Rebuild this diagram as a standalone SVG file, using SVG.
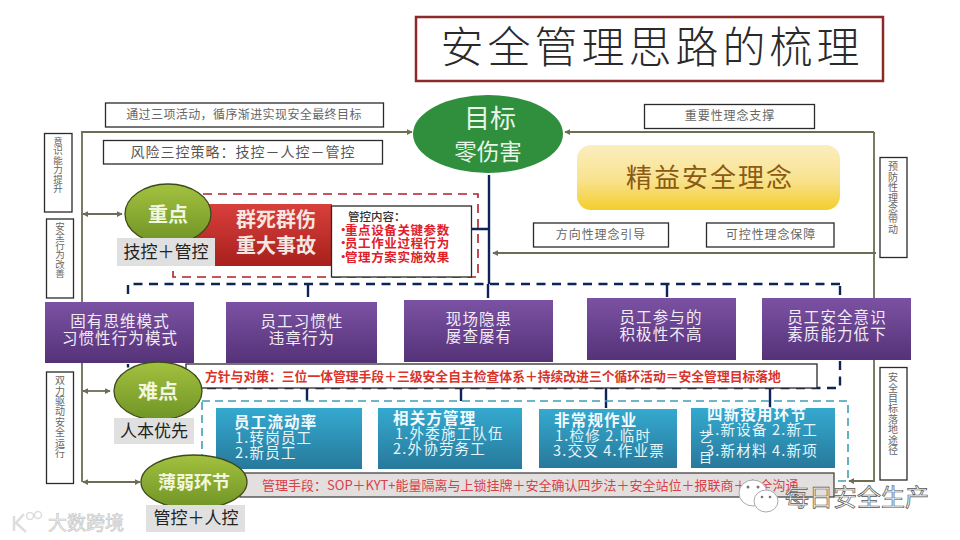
<svg xmlns="http://www.w3.org/2000/svg" width="960" height="540" viewBox="0 0 960 540">
<style>
text{font-family:"Noto Sans CJK SC","Noto Sans",sans-serif}
.lb{fill:#fff;stroke:#2a2a2a;stroke-width:1.3}
.lt{font-size:12px;fill:#666;text-anchor:middle;letter-spacing:.9px}
.vt{font-size:10px;fill:#666;writing-mode:vertical-rl;text-anchor:middle;letter-spacing:.4px}
.vs{font-size:9.5px;letter-spacing:0}
.pu{fill:url(#pur)}
.pt{font-size:15.5px;fill:#f1ecf6;text-anchor:middle;letter-spacing:1.1px}
.te{fill:url(#tea)}
.th{font-size:15.500px;font-weight:700;fill:#f4fbff;letter-spacing:1.200px}
.tt{font-size:14.500px;fill:#e6f6fb;letter-spacing:1.200px}
.ol{stroke:#6d6d55;stroke-width:1.8;fill:none}
.nv{stroke:#0f2456;stroke-width:2.4;fill:none}
.da{stroke-dasharray:9 6.5}
.gr{fill:#e0e0e0}
.gt{font-size:17px;fill:#222;text-anchor:middle}
.el{fill:url(#grn);stroke:#3d4a1a;stroke-width:1.3}
.et{font-weight:700;fill:#f2f6dc;text-anchor:middle}
.rd{font-size:12.5px;font-weight:700;fill:#e0202a;letter-spacing:.6px}
</style>
<defs>
<linearGradient id="pur" x1="0" y1="0" x2="0" y2="1"><stop offset="0" stop-color="#7b52a3"/><stop offset="1" stop-color="#553278"/></linearGradient>
<linearGradient id="tea" x1="0" y1="0" x2="0" y2="1"><stop offset="0" stop-color="#35a9cf"/><stop offset="1" stop-color="#27799b"/></linearGradient>
<linearGradient id="grn" x1="0" y1="0" x2="0" y2="1"><stop offset="0" stop-color="#a3c13f"/><stop offset="1" stop-color="#6f9426"/></linearGradient>
<linearGradient id="yel" x1="0" y1="0" x2="0" y2="1"><stop offset="0" stop-color="#fbeec0"/><stop offset="0.55" stop-color="#f8e28c"/><stop offset="1" stop-color="#f3cd2c"/></linearGradient>
<linearGradient id="red" x1="0" y1="0" x2="0" y2="1"><stop offset="0" stop-color="#d8403c"/><stop offset="1" stop-color="#a8201c"/></linearGradient>
<marker id="ar" viewBox="0 0 8 8" refX="7" refY="4" markerWidth="6" markerHeight="6" orient="auto-start-reverse" markerUnits="userSpaceOnUse"><path d="M0 0L8 4L0 8Z" fill="#6d6d55"/></marker>
</defs>
<rect width="960" height="540" fill="#fff"/>

<g id="connectors">
<path class="ol" d="M82 482V132H412" marker-end="url(#ar)"/>
<path class="ol" d="M83 214H122" marker-start="url(#ar)" marker-end="url(#ar)"/>
<path class="ol" d="M83 391H110" marker-start="url(#ar)" marker-end="url(#ar)"/>
<path class="ol" d="M83 482H140" marker-start="url(#ar)" marker-end="url(#ar)"/>
<path class="ol" d="M874 132H565" marker-end="url(#ar)"/>
<path class="ol" d="M874 132V481H849" marker-end="url(#ar)"/>
<path class="ol" d="M876 253H493" marker-end="url(#ar)"/>
<path class="nv" d="M489 175V284M472 229H489"/>
<path class="nv da" d="M128 294V284H840"/>
<path class="nv" d="M308 284V297M488 284V298M667 284V297M840 286V295"/>
<path class="nv da" d="M840 361V388H128V364"/>
<path class="nv" d="M307 388V401M461 388V401M606 388V408M770 388V408"/>
<rect x="202" y="401" width="646" height="80" fill="none" stroke="#3f9fb5" stroke-width="1.6" stroke-dasharray="8 5"/>
<rect x="173" y="194" width="305" height="83" fill="none" stroke="#b02028" stroke-width="1.6" stroke-dasharray="9 6"/>
</g>

<g id="title"><rect x="416" y="17" width="467" height="64" fill="#fff" stroke="#8c2a2a" stroke-width="2.5"/>
<text x="652" y="63" font-size="43" fill="#2a2a2a" text-anchor="middle" letter-spacing="4" font-weight="300">安全管理思路的梳理</text></g>

<g id="goal"><ellipse cx="488" cy="134" rx="75" ry="39" fill="#2f8f3c"/>
<text x="490" y="128" font-size="26" fill="#eaf5ea" text-anchor="middle">目标</text>
<text x="488" y="160" font-size="22.500" fill="#eaf5ea" text-anchor="middle">零伤害</text></g>

<g id="lean"><rect x="577" y="145" width="263" height="65" rx="14" fill="url(#yel)"/>
<text x="710" y="187" font-size="26" fill="#8a5a14" text-anchor="middle" letter-spacing="2">精益安全理念</text></g>

<g id="box-activities"><rect class="lb" x="105.500" y="103" width="278" height="24"/><text class="lt" x="244" y="119" style="letter-spacing:.4px">通过三项活动，循序渐进实现安全最终目标</text></g>
<g id="box-strategy"><rect class="lb" x="103.500" y="140.500" width="279" height="23.500"/><text x="243" y="157" font-size="14" letter-spacing="1" fill="#555" text-anchor="middle">风险三控策略：技控－人控－管控</text></g>
<g id="box-important"><rect class="lb" x="644.500" y="104.500" width="170" height="24"/><text class="lt" x="730" y="120">重要性理念支撑</text></g>
<g id="box-direction"><rect class="lb" x="533.500" y="223" width="135" height="24"/><text class="lt" x="601" y="239">方向性理念引导</text></g>
<g id="box-control"><rect class="lb" x="706.500" y="223" width="127.500" height="24"/><text class="lt" x="771" y="239">可控性理念保障</text></g>

<g id="side-awareness"><rect class="lb" x="44.500" y="133.500" width="27.500" height="78.500"/><text class="vt vs" x="58" y="165">意识能力提升</text></g>
<g id="side-behavior"><rect class="lb" x="46.500" y="219" width="27" height="79"/><text class="vt vs" x="60" y="250">安全行为改善</text></g>
<g id="side-drive"><rect class="lb" x="46.500" y="372" width="27" height="111.500"/><text class="vt" x="60" y="417">双力驱动安全运行</text></g>
<g id="side-prevent"><rect class="lb" x="880" y="157.500" width="27" height="100"/><text class="vt" x="893" y="198">预防性理念帶动</text></g>
<g id="side-landing"><rect class="lb" x="880" y="367.500" width="27" height="112.500"/><text class="vt" x="893" y="414">安全目标落地途径</text></g>

<g id="accident"><rect x="182" y="204" width="150" height="62" fill="url(#red)"/>
<text x="276" y="227" font-size="20" font-weight="700" fill="#f6e6e0" text-anchor="middle">群死群伤</text>
<text x="276" y="253" font-size="20" font-weight="700" fill="#f6e6e0" text-anchor="middle">重大事故</text></g>
<g id="control-content"><rect class="lb" x="331.500" y="206" width="140" height="71"/>
<text x="348" y="221" font-size="11.500" font-weight="500" fill="#333">管控内容：</text>
<text class="rd" x="337" y="234.500">·<tspan x="345">重点设备关键参数</tspan></text>
<text class="rd" x="337" y="247.500">·<tspan x="345">员工作业过程行为</tspan></text>
<text class="rd" x="337" y="261.500">·<tspan x="345">管理方案实施效果</tspan></text></g>

<g id="key"><ellipse class="el" cx="168" cy="214" rx="43" ry="30"/><text class="et" x="168" y="222" font-size="20">重点</text>
<rect class="gr" x="117" y="238" width="98" height="28"/><text class="gt" x="166" y="258">技控＋管控</text></g>

<g id="p1"><rect class="pu" x="45" y="302" width="149" height="61"/><text class="pt" x="120" y="327">固有思维模式</text><text class="pt" x="120" y="344">习惯性行为模式</text></g>
<g id="p2"><rect class="pu" x="226" y="302" width="151" height="61"/><text class="pt" x="302" y="327">员工习惯性</text><text class="pt" x="302" y="344">违章行为</text></g>
<g id="p3"><rect class="pu" x="404" y="300" width="149" height="62"/><text class="pt" x="479" y="325">现场隐患</text><text class="pt" x="479" y="342">屡查屡有</text></g>
<g id="p4"><rect class="pu" x="587" y="298" width="149" height="62"/><text class="pt" x="661" y="323">员工参与的</text><text class="pt" x="661" y="340">积极性不高</text></g>
<g id="p5"><rect class="pu" x="762" y="298" width="149" height="62"/><text class="pt" x="837" y="323">员工安全意识</text><text class="pt" x="837" y="340">素质能力低下</text></g>

<g id="policy"><rect class="lb" x="186" y="364" width="631" height="24"/>
<text x="205" y="380.500" font-size="12.800" font-weight="700" fill="#d9342c">方针与对策：三位一体管理手段＋三级安全自主检查体系＋持续改进三个循环活动＝安全管理目标落地</text></g>

<g id="difficulty"><ellipse class="el" cx="158" cy="391" rx="44" ry="29"/><text class="et" x="158" y="399" font-size="20">难点</text>
<rect class="gr" x="114" y="418" width="80" height="26"/><text class="gt" x="154" y="437">人本优先</text></g>

<g id="t1"><rect class="te" x="216" y="408" width="146" height="61"/><text class="th" x="234" y="428">员工流动率</text><text class="tt" x="235" y="443">1.转岗员工</text><text class="tt" x="235" y="458">2.新员工</text></g>
<g id="t2"><rect class="te" x="378" y="408" width="144" height="61"/><text class="th" x="393" y="424">相关方管理</text><text class="tt" x="395" y="439">1.外委施工队伍</text><text class="tt" x="393" y="454">2.外协劳务工</text></g>
<g id="t3"><rect class="te" x="539" y="409" width="138" height="59"/><text class="th" x="554" y="426">非常规作业</text><text class="tt" x="555" y="441">1.检修 2.临时</text><text class="tt" x="553" y="456">3.交叉 4.作业票</text></g>
<g id="t4"><rect class="te" x="691" y="408" width="144" height="60"/><text class="th" x="707" y="420">四新投用环节</text><text class="tt" x="706" y="435">1.新设备 2.新工</text><text class="tt" x="699" y="441" style="font-size:13px">艺</text><text class="tt" x="706" y="456">3.新材料 4.新项</text><text class="tt" x="699" y="462" style="font-size:13px">目</text></g>

<g id="measures"><rect x="240" y="473" width="594" height="24" fill="#e3dfdf" stroke="#444" stroke-width="1.300"/>
<text x="262" y="490" font-size="13" fill="#d8404a">管理手段：SOP＋KYT+能量隔离与上锁挂牌＋安全确认四步法＋安全站位＋报联商＋安全沟通</text></g>

<g id="weak"><ellipse class="el" cx="194" cy="482" rx="53" ry="27"/><text class="et" x="194" y="489" font-size="18">薄弱环节</text>
<rect class="gr" x="146" y="505" width="99" height="27"/><text class="gt" x="196" y="524">管控＋人控</text></g>

<g id="watermarks">
<path d="M14 516V531M24 514L16 523L26 532" fill="none" stroke="#ddd" stroke-width="2.500"/>
<circle cx="30" cy="516" r="3.500" fill="none" stroke="#ddd" stroke-width="1.500"/><circle cx="38" cy="515" r="3.500" fill="none" stroke="#ddd" stroke-width="1.500"/>
<text x="48" y="530" font-size="19" fill="#ededed" stroke="#c4c4c4" stroke-width="0.600">大数跨境</text>
<ellipse cx="753" cy="493" rx="14" ry="13" fill="#fff" stroke="#aaa"/><ellipse cx="766" cy="501" rx="12" ry="11" fill="#fff" stroke="#aaa"/>
<circle cx="748" cy="487" r="1.500" fill="#777"/><circle cx="758" cy="487" r="1.500" fill="#777"/><circle cx="762" cy="497" r="1.300" fill="#777"/><circle cx="770" cy="497" r="1.300" fill="#777"/>
<text x="785" y="506" font-size="24" fill="#f5f5f5" stroke="#555" stroke-width="0.700">每日安全生产</text>
</g>
</svg>
